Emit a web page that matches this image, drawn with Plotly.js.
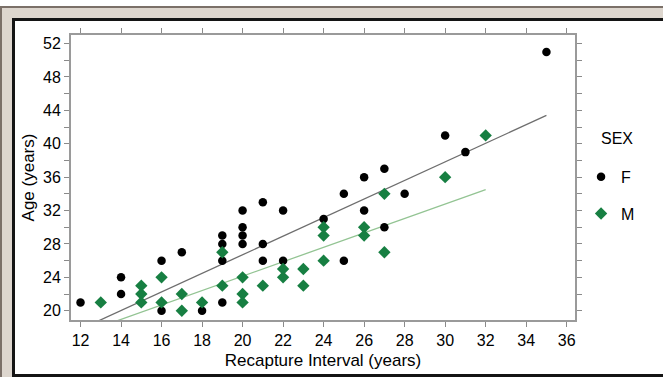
<!DOCTYPE html>
<html>
<head>
<meta charset="utf-8">
<script src="https://cdn.plot.ly/plotly-3.0.1.min.js"></script>
<style>
  html, body { margin: 0; padding: 0; background: #ffffff; overflow: hidden; }
  #wrap { position: relative; width: 663px; height: 377px; overflow: hidden; }
  #chart { position: absolute; left: 0; top: 0; width: 663px; height: 377px; }
  .frame { position: absolute; pointer-events: none; box-sizing: border-box; }
</style>
</head>
<body>
<div id="wrap">
  <div id="chart"></div>
</div>
<script>
// ---- data ----
const F_x = [12, 14, 14, 16, 16, 17, 18, 19, 19, 19, 19, 20, 20, 20, 20, 21, 21, 21, 22, 22, 24, 25, 25, 26, 26, 27, 27, 28, 30, 31, 35];
const F_y = [21, 24, 22, 26, 20, 27, 20, 29, 28, 26, 21, 32, 30, 29, 28, 33, 28, 26, 32, 26, 31, 34, 26, 36, 32, 37, 30, 34, 41, 39, 51];
const M_x = [13, 15, 15, 15, 16, 16, 17, 17, 18, 19, 19, 20, 20, 20, 21, 22, 22, 23, 23, 24, 24, 24, 26, 26, 27, 27, 30, 32];
const M_y = [21, 23, 22, 21, 24, 21, 22, 20, 21, 27, 23, 24, 22, 21, 23, 25, 24, 25, 23, 30, 29, 26, 30, 29, 34, 27, 36, 41];
// fitted lines (end values)
const fitF_x = [12, 35];
const fitF_y = [17.8, 43.4];
const fitM_x = [13, 32];
const fitM_y = [18.1, 34.5];
// tick labels
const xTicks = [12, 14, 16, 18, 20, 22, 24, 26, 28, 30, 32, 34, 36];
const yTicks = [20, 22, 24, 26, 28, 30, 32, 34, 36, 38, 40, 42, 44, 46, 48, 50, 52];
const yTickText = ['20', '', '24', '', '28', '', '32', '', '36', '', '40', '', '44', '', '48', '', '52'];

const FONT = 'Arial, "Liberation Sans", sans-serif';
const GREEN = '#177f42';

const traces = [
  { x: fitF_x, y: fitF_y, mode: 'lines', line: { color: '#6e6e6e', width: 1.3 }, showlegend: false, hoverinfo: 'skip' },
  { x: fitM_x, y: fitM_y, mode: 'lines', line: { color: '#93c493', width: 1.3 }, showlegend: false, hoverinfo: 'skip' },
  { x: F_x, y: F_y, mode: 'markers', name: 'F', legendgroup: 'F',
    marker: { symbol: 'circle', size: 8.5, color: '#000000' } },
  { x: M_x, y: M_y, mode: 'markers', name: 'M', legendgroup: 'M',
    marker: { symbol: 'diamond', size: 9.5, color: GREEN } }
];

const axisCommon = {
  showgrid: false, zeroline: false,
  showline: true, linecolor: '#9a9a9a', linewidth: 2,
  mirror: 'ticks', ticks: 'outside', ticklen: 5, tickwidth: 1, tickcolor: '#8a8a8a',
  tickfont: { family: FONT, size: 16, color: '#000' }
};

const layout = {
  width: 663, height: 377,
  margin: { l: 71, r: 88, t: 35, b: 57, pad: 0 },
  paper_bgcolor: '#ffffff', plot_bgcolor: '#ffffff',
  font: { family: FONT, size: 16, color: '#000' },
  xaxis: Object.assign({}, axisCommon, {
    range: [11.53, 36.41], tickmode: 'array', tickvals: xTicks, ticktext: xTicks.map(String),
    title: { text: 'Recapture Interval (years)', font: { family: FONT, size: 17, color: '#000' }, standoff: 6 }
  }),
  yaxis: Object.assign({}, axisCommon, {
    range: [18.89, 53.03], tickmode: 'array', tickvals: yTicks, ticktext: yTickText,
    title: { text: 'Age (years)', font: { family: FONT, size: 17, color: '#000' }, standoff: 4 }
  }),
  showlegend: true,
  legend: { x: 1.012, y: 0.562, xanchor: 'left', yanchor: 'top', traceorder: 'grouped', tracegroupgap: 13,
            font: { family: FONT, size: 16, color: '#000' }, bgcolor: 'rgba(0,0,0,0)' },
  annotations: [
    { text: 'SEX', xref: 'paper', yref: 'paper', x: 1.048, y: 0.636, xanchor: 'left', yanchor: 'middle',
      showarrow: false, font: { family: FONT, size: 16, color: '#000' } }
  ]
};

Plotly.newPlot('chart', traces, layout, { displayModeBar: false, staticPlot: true });

// decorative frame around the figure
const wrap = document.getElementById('wrap');
function addBox(style) {
  const d = document.createElement('div');
  d.className = 'frame';
  Object.assign(d.style, style);
  wrap.appendChild(d);
}
// beige band
addBox({ left: '0px', top: '6px', width: '663px', height: '12px', background: '#ddd6ce' });
addBox({ left: '0px', top: '6px', width: '12px', height: '371px', background: '#ddd6ce' });
// outer gray lines
addBox({ left: '0px', top: '6px', width: '663px', height: '2px', background: '#7b7068' });
addBox({ left: '0px', top: '6px', width: '2px', height: '371px', background: '#7b7068' });
// inner black lines
addBox({ left: '12px', top: '18px', width: '651px', height: '3px', background: '#141414' });
addBox({ left: '12px', top: '18px', width: '3px', height: '359px', background: '#141414' });
addBox({ left: '12px', top: '374px', width: '651px', height: '3px', background: '#141414' });
</script>
</body>
</html>
